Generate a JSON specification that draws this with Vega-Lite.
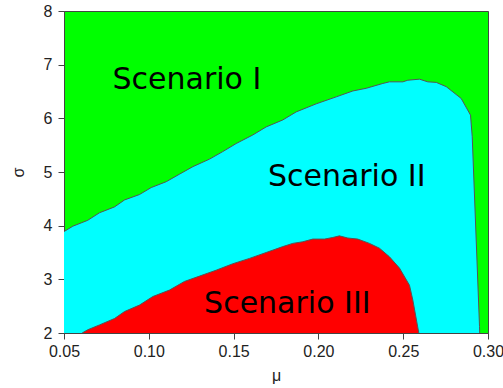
{
  "$schema": "https://vega.github.io/schema/vega-lite/v6.json",
  "width": 424,
  "height": 322,
  "autosize": {"type": "none"},
  "padding": {"left": 64, "top": 11, "right": 15, "bottom": 55},
  "config": {
    "view": {"fill": "#00ff00", "stroke": "#444444", "strokeWidth": 1},
    "axis": {"labelFont": "Liberation Sans", "titleFont": "Liberation Sans", "labelFontSize": 16, "titleFontSize": 16, "labelColor": "#222222", "titleColor": "#222222", "titleFontWeight": "normal", "domainColor": "#444444", "tickColor": "#444444", "tickSize": 6, "grid": false, "labelFlush": false, "labelOverlap": false, "labelBound": false}
  },
  "datasets": {
    "upper": [
      {"mu": 0.05, "sigma": 3.89}, {"mu": 0.0552, "sigma": 3.99}, {"mu": 0.064, "sigma": 4.10},
      {"mu": 0.0709, "sigma": 4.24}, {"mu": 0.0798, "sigma": 4.35}, {"mu": 0.0857, "sigma": 4.48},
      {"mu": 0.0945, "sigma": 4.58}, {"mu": 0.1014, "sigma": 4.71}, {"mu": 0.1103, "sigma": 4.82},
      {"mu": 0.1181, "sigma": 4.96}, {"mu": 0.126, "sigma": 5.10}, {"mu": 0.1358, "sigma": 5.24},
      {"mu": 0.1436, "sigma": 5.38}, {"mu": 0.1515, "sigma": 5.53}, {"mu": 0.1613, "sigma": 5.69},
      {"mu": 0.1692, "sigma": 5.84}, {"mu": 0.179, "sigma": 5.97}, {"mu": 0.1869, "sigma": 6.12},
      {"mu": 0.1987, "sigma": 6.27}, {"mu": 0.2105, "sigma": 6.40}, {"mu": 0.2203, "sigma": 6.51},
      {"mu": 0.2282, "sigma": 6.56}, {"mu": 0.238, "sigma": 6.65}, {"mu": 0.2419, "sigma": 6.68},
      {"mu": 0.2498, "sigma": 6.68}, {"mu": 0.2527, "sigma": 6.71}, {"mu": 0.2596, "sigma": 6.73},
      {"mu": 0.2645, "sigma": 6.68}, {"mu": 0.2695, "sigma": 6.67}, {"mu": 0.2754, "sigma": 6.59},
      {"mu": 0.2842, "sigma": 6.37}, {"mu": 0.2897, "sigma": 6.06}, {"mu": 0.2907, "sigma": 5.66},
      {"mu": 0.295, "sigma": 2.12}, {"mu": 0.2951, "sigma": 2.0}
    ],
    "lower": [
      {"mu": 0.0607, "sigma": 2.0}, {"mu": 0.064, "sigma": 2.06}, {"mu": 0.0709, "sigma": 2.15},
      {"mu": 0.0798, "sigma": 2.27}, {"mu": 0.0857, "sigma": 2.40}, {"mu": 0.0945, "sigma": 2.52},
      {"mu": 0.1024, "sigma": 2.68}, {"mu": 0.1122, "sigma": 2.80}, {"mu": 0.121, "sigma": 2.96},
      {"mu": 0.1299, "sigma": 3.06}, {"mu": 0.1397, "sigma": 3.17}, {"mu": 0.1495, "sigma": 3.29},
      {"mu": 0.1594, "sigma": 3.39}, {"mu": 0.1692, "sigma": 3.50}, {"mu": 0.179, "sigma": 3.61},
      {"mu": 0.1849, "sigma": 3.67}, {"mu": 0.1908, "sigma": 3.70}, {"mu": 0.1967, "sigma": 3.75},
      {"mu": 0.2036, "sigma": 3.75}, {"mu": 0.2085, "sigma": 3.78}, {"mu": 0.2124, "sigma": 3.81},
      {"mu": 0.2173, "sigma": 3.77}, {"mu": 0.2232, "sigma": 3.75}, {"mu": 0.2301, "sigma": 3.67},
      {"mu": 0.236, "sigma": 3.58}, {"mu": 0.2419, "sigma": 3.42}, {"mu": 0.2478, "sigma": 3.21},
      {"mu": 0.2537, "sigma": 2.89}, {"mu": 0.2557, "sigma": 2.61}, {"mu": 0.2592, "sigma": 2.0}
    ],
    "labels": [
      {"mu": 0.1225, "sigma": 6.54, "label": "Scenario I"},
      {"mu": 0.2167, "sigma": 4.73, "label": "Scenario II"},
      {"mu": 0.1817, "sigma": 2.38, "label": "Scenario III"}
    ]
  },
  "encoding": {
    "x": {"field": "mu", "type": "quantitative", "scale": {"domain": [0.05, 0.3], "nice": false, "zero": false},
          "axis": {"title": "μ", "values": [0.05, 0.1, 0.15, 0.2, 0.25, 0.3], "format": ".2f", "labelPadding": 4, "titlePadding": 8}},
    "y": {"field": "sigma", "type": "quantitative", "scale": {"domain": [2, 8], "nice": false, "zero": false},
          "axis": {"title": "σ", "values": [2, 3, 4, 5, 6, 7, 8], "labelPadding": 6, "titlePadding": 17}}
  },
  "layer": [
    {"data": {"name": "upper"}, "mark": {"type": "area", "color": "#00ffff", "clip": true}, "encoding": {"y2": {"datum": 2}}},
    {"data": {"name": "lower"}, "mark": {"type": "area", "color": "#ff0000", "clip": true}, "encoding": {"y2": {"datum": 2}}},
    {"data": {"name": "upper"}, "mark": {"type": "line", "color": "#555555", "strokeWidth": 1, "clip": true}, "encoding": {}},
    {"data": {"name": "lower"}, "mark": {"type": "line", "color": "#555555", "strokeWidth": 1, "clip": true}, "encoding": {}},
    {"data": {"name": "labels"}, "mark": {"type": "text", "font": "DejaVu Sans", "fontSize": 30, "color": "black", "align": "center", "baseline": "alphabetic"}, "encoding": {"text": {"field": "label"}}}
  ]
}
